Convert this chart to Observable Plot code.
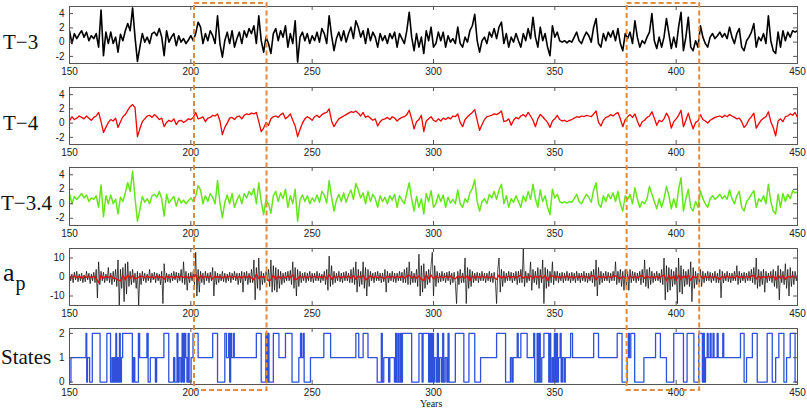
<!DOCTYPE html>
<html><head><meta charset="utf-8">
<script src="https://cdn.jsdelivr.net/npm/d3@7"></script>
<script src="https://cdn.jsdelivr.net/npm/@observablehq/plot@0.6"></script>
<style>
body{margin:0;background:#fff}
#root{position:relative;width:807px;height:412px;overflow:hidden;background:#fff}
#root svg{position:absolute;left:0}
.lab{position:absolute;font-family:"Liberation Serif","Times New Roman",serif;font-size:21px;color:#111;line-height:1;white-space:nowrap}
</style></head>
<body><div id="root"></div>
<script>
// ---- data ----
const startYear = 150;
const xTicks = [150, 200, 250, 300, 350, 400, 450];
const tTicks = [-2, 0, 2, 4];
const apTicks = [-10, 0, 10];
const stateTicks = [0, 1, 2];
const highlightStart = [201.5, 379.8];
const highlightEnd = [231.4, 409.7];

// T-3, one value per year 150..450
const t3Values = [
1.6,-0.2,1.2,0.5,1.1,1.6,0.7,1.4,0.2,0.9,
0.5,1.2,-0.7,4.5,-1.9,1.4,-0.2,1.4,-0.2,0.7,
-1.4,1.1,0.2,1.6,2.6,1.6,4.8,0.7,-2.7,-0.7,
1.2,0,0.7,-0.2,1.2,1.4,0.9,1.9,0.7,-1.9,
1.6,0,0.7,1.2,-0.5,0.9,0,0.5,-0.2,0.3,
0.9,0.2,1.2,2.8,2.1,-0.2,1.2,0.2,1.6,0.9,
-0.2,3.7,-0.2,-2.1,0.2,1.4,-0.2,1.6,-0.7,0.5,
1.4,-0.2,1.6,0.7,1.9,1.2,2.3,-0.2,3.7,0.2,
-1.4,0.7,-0.2,-1.6,1.2,1.9,0.2,1.6,0.7,2.3,
-0.7,1.2,-0.2,3.0,-2.8,0.7,1.4,0.2,1.2,-0.2,
0.9,0.2,1.4,0,1.9,1.2,-0.2,3.7,0.9,-1.2,
0.5,1.4,0.2,1.6,0,1.2,2.1,0.5,3.0,2.1,
0.7,1.6,-0.2,1.9,0.2,1.4,0.7,-0.7,1.2,0.2,
0.9,-0.2,1.2,0.5,1.4,-0.7,1.2,0.5,-0.2,1.6,
4.2,0.7,-1.2,1.2,-0.7,0.7,-1.6,1.6,0.2,2.1,
-0.7,-0.2,1.4,0.2,1.4,-0.7,0.9,0,0.5,-0.2,
2.1,-0.2,-0.7,0.7,0,1.6,2.3,3.9,0.2,-1.4,
0.2,0.7,-0.2,1.4,0.7,1.9,0.5,2.1,2.8,-0.2,
1.2,-0.7,0.7,0,1.2,0.2,-0.7,1.2,0.2,1.9,
0.5,3.5,0.7,-0.7,2.1,0.2,1.2,-0.7,-1.9,2.3,
0.7,1.4,0.2,0,0.2,-0.1,0.2,0,0.7,1.4,
0.2,-0.2,0.7,1.4,0.9,0,2.1,3.3,-0.2,-0.7,
1.2,0.2,1.4,0.7,1.6,0.2,1.9,-0.2,-1.2,1.2,
0.5,1.4,-0.2,3.0,0.7,-0.7,0.2,-0.2,0.7,1.4,
4.0,0.2,-0.9,0.7,-0.7,0.7,3.3,1.2,-0.9,0.7,
-0.7,2.1,4.2,-1.2,0.7,3.5,-0.7,-1.2,0.2,-0.7,
2.3,0.7,-0.2,-0.7,0.7,1.2,0.5,0.9,1.4,0.7,
1.2,0.5,2.1,0.7,-0.2,1.2,1.9,-0.7,-1.2,0.2,
0.7,1.4,2.6,-0.7,0.7,0.2,1.2,-0.2,3.7,0.2,
-1.2,-1.6,1.4,-0.7,1.6,0.2,1.4,0.7,1.6,1.4,
1.6];

// T-4, one value per year 150..450
const t4Values = [
0.3,0.9,0.5,0.7,1.0,0.8,0.6,1.0,0.7,0.4,
0.8,1.0,1.5,0.2,-1.3,-0.6,0.1,0.5,0.3,0.7,
-0.6,0.2,0.9,1.2,1.8,2.3,2.6,2.2,-1.9,-0.8,
0.2,0.6,1.0,1.1,0.8,1.2,0.9,0.5,0.7,-0.5,
0.1,0.4,0.2,0.6,-0.2,0.3,0.4,0.1,0.3,0.6,
0.5,0.8,1.5,0.6,0.7,0.9,0.2,0.7,0.8,1.1,
1.0,1.3,0.3,-1.6,-0.6,0.0,0.7,0.8,0.5,0.9,
1.0,0.6,1.1,1.3,1.2,1.4,1.3,1.5,0.2,-1.2,
-0.7,0.1,-0.3,0.6,0.9,1.0,0.8,1.2,1.4,0.6,
0.9,1.3,0.4,-0.4,-1.9,-0.9,0.0,0.6,0.9,0.7,
0.4,0.9,1.1,0.8,1.2,1.4,1.5,2.0,0.3,-0.5,
0.1,0.6,0.8,1.0,1.2,1.4,1.6,1.5,1.7,1.4,
1.0,1.5,0.8,1.0,0.7,0.4,0.6,-0.4,0.2,0.5,
0.6,0.8,0.5,0.9,0.7,0.3,0.6,0.8,0.9,1.2,
1.8,0.6,-0.8,0.2,0.5,1.1,-1.2,0.3,0.6,0.9,
0.4,0.2,0.6,0.3,0.7,0.5,0.8,0.6,1.0,0.9,
1.3,0.1,-0.5,0.5,0.9,1.2,1.5,1.9,0.4,-1.0,
-0.2,0.5,0.9,1.0,1.1,1.3,1.2,1.4,1.7,0.2,
0.3,0.6,-0.3,0.4,0.8,0.6,1.0,1.2,0.9,1.5,
1.0,0.4,-0.5,0.6,1.2,0.9,0.5,0.1,-0.6,0.3,
0.6,1.1,0.5,0.3,0.4,0.2,0.4,0.5,0.7,0.9,
0.8,1.0,0.9,1.1,1.0,0.9,1.3,1.7,0.1,-0.4,
0.4,0.8,0.9,1.2,1.0,1.3,1.5,0.6,-0.5,0.5,
0.9,1.2,0.8,1.3,0.3,-0.5,0.2,0.4,0.8,1.0,
1.6,0.7,-0.3,0.4,0.2,0.6,1.4,0.8,-0.7,0.2,
0.6,1.1,1.8,-0.5,0.4,1.4,0.2,-0.8,0.1,0.3,
1.2,0.5,0.3,0.0,0.4,0.6,0.8,0.9,1.0,0.8,
1.1,0.9,1.2,1.0,0.8,0.6,0.7,0.2,-0.6,-0.2,
0.5,0.9,1.4,-0.7,-0.1,0.4,0.7,0.9,1.6,0.2,
-0.6,-1.8,0.3,0.6,0.2,0.9,1.0,1.3,1.1,1.5,
0.8];

// T-3.4, one value per year 150..450
const t34Values = [
1.4,0.0,1.0,0.6,1.0,1.4,0.8,1.2,0.3,0.8,
0.6,1.1,-0.5,2.6,-1.8,1.1,0.0,1.2,0.0,0.6,
-1.4,0.9,0.3,1.5,2.9,1.7,4.5,0.8,-2.4,-0.8,
1.0,0.2,0.7,0.0,1.1,1.3,0.9,1.7,0.7,-1.7,
1.3,0.1,0.6,1.0,-0.3,0.8,0.1,0.5,0.0,0.4,
0.8,0.3,1.1,2.5,1.9,0.0,1.1,0.3,1.4,0.9,
0.0,3.2,0.1,-1.9,0.2,1.2,0.0,1.4,-0.5,0.5,
1.2,0.0,1.4,0.8,1.7,1.2,2.1,0.0,2.9,0.3,
-1.5,0.6,0.0,-1.3,1.1,1.7,0.3,1.5,0.7,2.0,
-0.5,1.1,0.0,2.0,-2.4,0.5,1.2,0.3,1.1,0.0,
0.8,0.3,1.2,0.2,1.7,1.2,0.1,3.2,0.9,-1.0,
0.5,1.3,0.3,1.5,0.2,1.2,1.9,0.6,2.8,1.9,
0.8,1.5,0.0,1.7,0.3,1.3,0.7,-0.5,1.1,0.3,
0.9,0.0,1.1,0.5,1.3,-0.5,1.1,0.5,0.0,1.5,
2.9,0.7,-1.0,1.0,-0.5,0.7,-1.4,1.4,0.3,1.8,
-0.5,0.0,1.3,0.3,1.2,-0.5,0.9,0.1,0.6,0.0,
1.9,0.0,-0.5,0.7,0.2,1.5,2.1,3.3,0.3,-1.0,
0.3,0.7,0.0,1.3,0.8,1.7,0.6,1.9,2.7,0.0,
1.1,-0.5,0.7,0.2,1.1,0.3,-0.5,1.1,0.3,1.7,
0.6,2.7,0.7,-0.5,1.9,0.3,1.1,-0.5,-1.5,2.0,
0.8,1.3,0.3,0.1,0.3,0.1,0.3,0.2,0.7,1.3,
0.3,0.0,0.7,1.3,0.9,0.2,1.9,2.9,0.0,-0.5,
1.1,0.3,1.3,0.7,1.5,0.3,1.7,0.0,-1.0,1.1,
0.6,1.3,0.0,2.2,0.7,-0.5,0.3,0.0,0.7,2.4,
1.3,0.3,-0.7,0.7,-0.5,0.7,2.4,1.1,-0.7,0.7,
-0.5,2.0,3.6,-1.0,0.7,2.0,-0.5,-1.0,0.3,-0.5,
1.8,0.7,0.0,-0.5,0.7,1.1,0.6,0.9,1.3,0.7,
1.1,0.6,1.9,0.7,0.0,1.1,1.7,-0.5,-1.0,0.3,
0.7,1.3,1.8,-0.5,0.7,0.3,1.1,0.0,2.7,0.3,
-1.0,-1.4,1.3,-0.5,1.4,0.3,1.3,0.7,1.8,1.5,
1.6];

// a_p raw (black), two values per year 150..450
const apValues = [
2,-2,1.5,-3,2.5,-1.5,3,-2.5,1.5,-2,2,-3,1,-2.5,3,-1.5,2,-3.5,1.5,-2,
2.5,-3,4,-11,8,-4,3,-2,2.5,-3,1.5,-2,5,-3,2,-4,3,-2.5,4,-5,
9,-15,4,-6,5,-13,7,-9,8,-5,3,-4,4,-3,2,-6,3,-15,2,-4,
3,-2,2,-3,1.5,-2,4,-3,2,-1.5,2.5,-3,2,-2,1.5,-4,3,-14,7,-3,
2,-2.5,1.5,-3,2,-2,3,-1.5,2.5,-3,2,-2,4,-3,8,-4,3,-7,2,-3,
2.5,-2,3,-4,13,-10,4,-8,3,-3,2,-4,3,-2,2,-3,2.5,-2,5,-10,
3,-4,2,-3,1.5,-2,3,-2.5,2,-3,1.5,-2,2.5,-3,2,-1.5,3,-2,2,-4,
2,-3,3,-8,2.5,-2,3,-4,2,-3,4,-3,9,-12,5,-6,10,-7,3,-4,
2,-3,3,-2,4,-5,9,-8,6,-7,5,-8,4,-6,3,-4,2,-3,2.5,-2,
3,-2,3.5,-4,8,-6,5,-10,4,-5,3,-3,2,-2,2.5,-3,2,-2,3,-2.5,
2,-3,2,-2,3,-2,2,-3,1.5,-2,3,-4,4,-7,11,-5,6,-4,3,-3,
2,-2,3,-2.5,2,-3,2.5,-2,3,-2,2,-3,4,-3,5,-4,8,-8,4,-5,
3,-4,8,-6,5,-10,4,-5,3,-2,2,-3,2.5,-2,3,-2,2,-3,2,-2.5,
4,-8,3,-3,2,-2,3,-2.5,2,-3,2,-2,3,-2,2.5,-3,4,-3,5,-4,
8,-4,3,-3,2,-3,4,-5,12,-10,6,-8,7,-6,3,-4,4,-3,6,13,
-10,6,-5,3,-3,2,-2.5,3,-2,2,-3,2.5,-2,3,-4,2,-3,2.5,-3,-14,
3,-4,4,-3,2,-3,10,-14,5,-6,4,-5,3,-3,2,-2,2.5,-3,2,-2,
3,-2,2,-3,2,-2,3,-2.5,2,-3,2.5,-2,-14,4,10,-8,4,-5,3,-3,
2,-2,3,-2,2.5,-3,2,-2,3,-4,3,-3,4,-3,15,-5,3,-3,2,-2,
8,-7,4,-3,3,-4,5,-6,4,-3,9,-14,5,-6,4,-5,3,-3,8,-4,
3,-2,3,-3,2,-2,2.5,-3,2,-2,3,-2,2,-3,2.5,-2,2,-3,3,-2,
2,-3,2,-2,3,-2.5,2,-3,2,-2,3,-3,4,-5,9,-10,5,-4,3,-3,
2,-2,3,-2,2.5,-3,2,-2,3,-2,8,-4,3,-3,4,-5,3,-7,4,-6,
3,-7,4,-3,3,-2,2.5,-3,2,-2,3,-4,4,-3,9,-5,4,-6,5,-4,
3,-3,2,-2,3,-2,2,-3,4,-4,10,-12,6,-8,5,-7,4,-5,3,-4,
5,-14,10,-8,6,-9,4,-5,3,-4,4,-5,8,-13,5,-6,3,-4,2,-3,
4,-5,3,-3,2,-2,3,-2,2.5,-3,2,-2,3,-3,2,-3,4,-11,3,-3,
2,-2,3,-2.5,2,-3,2,-2,3,-2,6,-4,3,-3,2,-2,2.5,-3,2,-2,
3,-2,4,-3,5,-4,10,-6,4,-5,3,-4,4,-8,3,-3,2,-2,3,-3,
4,-5,3,-6,6,-12,4,-3,3,-4,7,-6,4,-10,5,-5,3,-4,3,-2,
2];

// a_p smoothed (red), one value per year 150..450
const apSmoothValues = [
0.3,-0.5,0.6,-0.3,0.4,-0.6,0.5,-0.2,0.3,-0.4,
0.5,-0.8,-3,0.8,-0.5,0.4,-0.3,0.6,-0.5,-0.8,
-1.5,-2,0.8,-1.5,1,-0.5,0.6,-1,-0.5,0.4,
0.3,-0.4,0.5,-0.3,0.2,-0.5,0.6,-0.3,0.4,-1.2,
0.5,-0.3,0.4,-0.5,0.3,-0.2,0.5,-0.3,0.4,-0.6,
0.3,-0.5,1.2,-2,0.8,-0.5,0.3,-0.4,0.5,-1,
0.6,-0.3,0.4,-0.5,0.3,-0.3,0.5,-0.4,0.3,-0.5,
0.4,-0.6,0.5,-0.3,0.6,-0.5,-1.5,1.5,-0.8,0.5,
-0.4,0.6,-2,-1.5,1,-1.2,0.5,-0.6,0.4,-0.5,
0.5,-0.3,1,-1.5,-0.8,0.5,-0.4,0.3,-0.5,0.4,
-0.3,0.5,-0.4,0.3,-0.5,0.6,-1,1.2,-1.2,0.4,
-0.3,0.4,-0.5,0.3,-0.4,0.5,-0.6,0.8,-1.2,0.5,
-0.4,1,-1.5,-0.5,0.6,-0.4,0.3,-0.5,0.4,-0.3,
-0.8,0.5,-0.4,0.3,-0.5,0.4,-0.3,0.5,-0.6,0.4,
1,-0.5,0.4,-0.6,0.5,-1.2,-1.8,1,-0.8,1,
-1,0.5,-0.4,0.3,-0.5,0.4,-0.3,0.5,-0.4,-1,
0.5,-0.3,0.4,-0.6,0.8,-1.8,0.6,-0.5,0.3,-0.4,
0.5,-0.3,0.4,-0.5,0.3,-0.4,-1.2,1,-0.6,0.3,
-0.4,0.5,-0.3,0.4,-0.5,0.3,1,-0.6,0.4,-0.5,
0.6,-0.8,0.5,-0.4,0.6,-0.5,0.8,-1.8,0.5,0.6,
-0.4,0.3,-0.5,0.4,-0.3,0.5,-0.4,0.3,-0.5,0.4,
-0.3,0.5,-0.4,0.3,-0.5,0.6,0.8,-1.5,0.5,-0.4,
0.3,-0.5,0.4,-0.3,0.5,0.6,-0.4,-0.8,0.4,-0.6,
-1,0.5,-0.4,0.3,-0.5,0.4,0.8,-0.6,0.5,-0.4,
0.3,-0.5,0.4,-0.6,0.5,1,-2,0.8,-0.9,0.6,
-1.8,1,-1.2,0.6,-0.5,0.8,-1.8,0.5,-0.4,0.3,
0.5,-0.6,0.4,-0.3,0.5,-0.4,0.3,-0.5,-1.2,0.4,
-0.3,0.5,-0.4,0.3,-0.5,0.6,-0.4,0.3,-0.5,0.4,
-0.3,0.5,0.8,-1,0.5,-0.6,0.4,-0.5,0.4,-0.3,
0.6,-1.5,0.8,-0.5,0.6,-1.2,0.5,-0.4,0.6,-0.3,
0.2];

// hidden states: year at which each state begins
const stateYears = [
150,150.6,156.8,157.1,157.4,158.3,159.4,162.6,165.4,166.9,167.5,167.9,168.3,168.7,169.1,169.4,169.8,170.2,170.6,170.9,
171.4,171.9,175.9,176.4,176.9,178.4,178.9,181.9,182.4,183.3,185.4,185.9,188.9,190.9,192.9,193.4,194.3,194.7,195.2,195.9,
196.4,196.9,197.4,197.9,198.4,198.9,199.3,200.1,200.9,203,209,211,214,214.7,215.6,216,216.4,216.8,217.6,217.9,
227,229,230.9,231.3,231.8,232.2,234,236.3,239,241.7,244.5,245.2,245.6,246.3,246.7,249.3,254.8,257.6,268,269.2,
271,273,276.8,278.5,278.9,279.5,281.5,282,283.9,284.4,284.8,285.4,285.8,286.4,286.8,287.2,291,294,295.3,295.7,
298,298.5,299,299.5,300,300.4,301.1,301.6,302,302.5,303.3,303.8,304.2,304.8,305.5,306,306.4,309,312.5,314.6,
317,319.4,326,329.7,331.7,332.3,332.8,334.5,334.9,336,338.6,341.3,341.7,342.7,343.1,343.6,344,344.6,345.5,347.5,
348,348.3,348.9,349.3,349.8,350.3,350.7,351.1,351.5,352.2,352.6,353.1,353.8,354.3,356.5,357.3,366,368,375.7,377.7,
379.8,380.3,380.7,381.3,382.9,386.7,391.5,393.5,396,399,403,404.5,407.3,409.3,410.8,411.2,411.6,412.1,412.8,413.2,
414,414.4,415.2,415.6,416.9,417.3,419.2,419.6,426.5,428,429,431.4,433.4,437.5,439.6,441,442.3,444.4,445.5,447,
449,450];
const stateValues = [
0,1,2,0,1,0,2,0,2,0,1,0,1,0,2,0,1,0,2,0,
1,2,0,1,0,2,1,2,0,1,0,1,2,0,1,0,2,0,1,0,
2,0,2,1,0,2,0,1,2,1,2,0,2,1,2,0,2,1,2,1,
2,0,2,0,2,0,2,1,2,0,1,2,1,2,0,1,2,1,2,1,
2,1,0,2,0,1,0,1,0,2,0,2,0,2,0,2,0,2,0,2,
0,2,0,2,0,1,0,2,0,1,0,2,0,1,0,2,0,2,0,2,
0,1,2,0,1,0,1,2,1,2,1,2,0,2,0,2,0,1,2,0,
2,0,1,0,2,0,2,0,1,2,0,1,0,1,2,1,2,1,2,0,
1,2,1,2,0,1,2,1,0,2,0,2,0,2,0,2,0,1,2,1,
2,1,2,1,2,1,2,1,2,0,1,2,0,2,0,1,2,0,1,2,
0,0];

// ---- drawing ----
const root = document.getElementById("root");
const W = 807, ML = 69, MR = 10;
const innerW = W - ML - MR;
const series = vals => vals.map((v, i) => ({x: startYear + i, y: v}));
const seriesHalf = vals => vals.map((v, i) => ({x: startYear + i / 2, y: v}));
const fmt = d => d < 0 ? "-" + Math.abs(d) : String(d);

function panel(top, bottom, ydomain, yticks, marks) {
  const h = bottom - top, mt = 4, mb = 22;
  const svg = Plot.plot({
    width: W, height: h + mt + mb,
    marginLeft: ML, marginRight: MR, marginTop: mt, marginBottom: mb,
    x: {domain: [150, 450]},
    y: {domain: ydomain},
    style: {background: "transparent", fontFamily: "'Liberation Sans', Arial, sans-serif", fontSize: "10px", color: "#222"},
    marks: [
      ...marks,
      Plot.frame({stroke: "#555"}),
      Plot.ruleX(xTicks, {insetTop: h - 4, stroke: "#555"}),
      Plot.ruleX(xTicks, {insetBottom: h - 4, stroke: "#555"}),
      Plot.ruleY(yticks, {insetRight: innerW - 4, stroke: "#555"}),
      Plot.ruleY(yticks, {insetLeft: innerW - 4, stroke: "#555"}),
      Plot.axisX({ticks: xTicks, tickSize: 0, tickPadding: 4, label: null, tickFormat: d => String(d)}),
      Plot.axisY({ticks: yticks, tickSize: 0, tickPadding: 5, label: null, tickFormat: fmt})
    ]
  });
  svg.style.top = (top - mt) + "px";
  root.append(svg);
}

panel(6, 63, [-3, 5], tTicks, [
  Plot.line(series(t3Values), {x: "x", y: "y", stroke: "#000", strokeWidth: 1.6, clip: true})
]);
panel(87, 144, [-3, 5], tTicks, [
  Plot.line(series(t4Values), {x: "x", y: "y", stroke: "#f00000", strokeWidth: 1.3, clip: true})
]);
panel(167, 225, [-3, 5], tTicks, [
  Plot.line(series(t34Values), {x: "x", y: "y", stroke: "#66e61a", strokeWidth: 1.5, clip: true})
]);
panel(248, 305, [-15, 15], apTicks, [
  Plot.line(seriesHalf(apValues), {x: "x", y: "y", stroke: "#000", strokeWidth: 0.7, clip: true}),
  Plot.line(series(apSmoothValues), {x: "x", y: "y", stroke: "#e01010", strokeWidth: 1.4, clip: true})
]);
panel(328, 384, [-0.1, 2.2], stateTicks, [
  Plot.line(stateYears.map((yr, i) => ({x: yr, y: stateValues[i]})), {x: "x", y: "y", curve: "step-after", stroke: "#3050dc", strokeWidth: 1.3, clip: true})
]);

// highlighted periods (dashed boxes spanning all panels)
const hl = highlightStart.map((s, i) => ({s, e: highlightEnd[i]}));
const over = Plot.plot({
  width: W, height: 412, marginLeft: ML, marginRight: MR, marginTop: 3, marginBottom: 22,
  x: {domain: [150, 450], axis: null}, y: {domain: [0, 1], axis: null},
  style: {background: "transparent"},
  marks: [Plot.rect(hl, {x1: "s", x2: "e", y1: 0, y2: 1, fill: "none", stroke: "#e38a3c", strokeWidth: 2, strokeDasharray: "5,3"})]
});
over.style.top = "0px";
over.style.pointerEvents = "none";
root.append(over);

// left labels
function label(html, left, top, size) {
  const d = document.createElement("div");
  d.className = "lab";
  d.innerHTML = html;
  d.style.left = left + "px";
  d.style.top = top + "px";
  if (size) d.style.fontSize = size + "px";
  root.append(d);
}
label("T−3", 3, 32);
label("T−4", 3, 113);
label("T−3.4", 1, 193);
label("a<span style='font-size:20px;position:relative;top:9px;left:1px'>p</span>", 3, 260, 26);
label("States", 1, 347);
label("Years", 420, 399, 10);
</script>
</body></html>
